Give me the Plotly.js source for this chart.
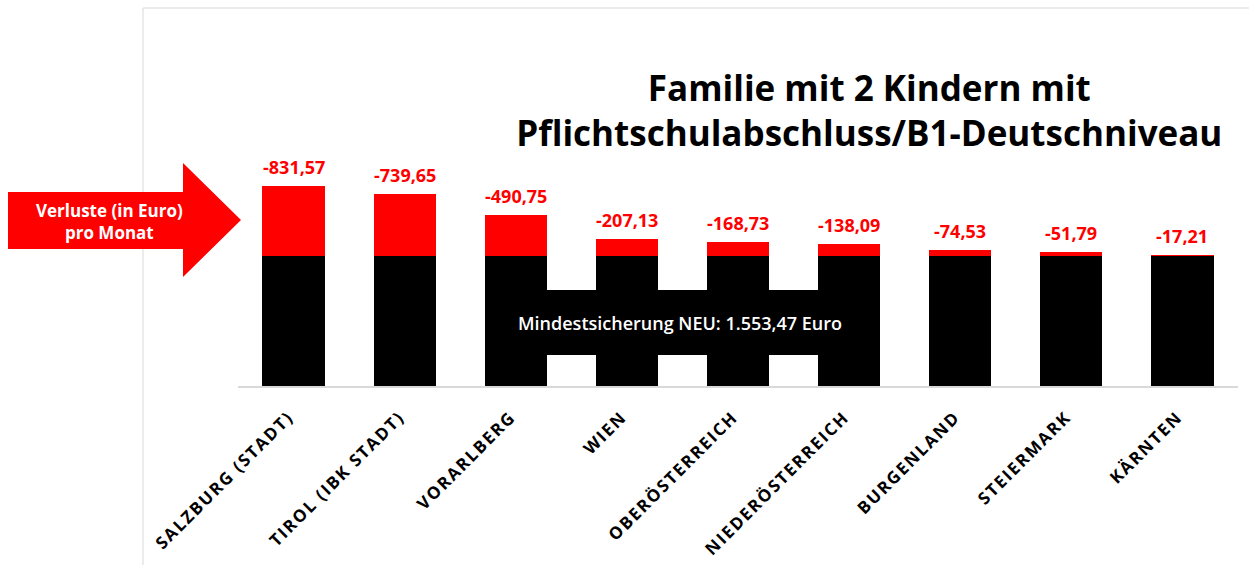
<!DOCTYPE html>
<html>
<head>
<meta charset="utf-8">
<script src="https://cdn.plot.ly/plotly-3.0.1.min.js"></script>
<style>
html,body{margin:0;padding:0;background:#fff;}
#chart{width:1249px;height:565px;}
.xtick text{letter-spacing:1.8px;}
</style>
</head>
<body>
<div id="chart"></div>
<script>
// ---- data ----
const categories = ['SALZBURG (STADT)','TIROL (IBK STADT)','VORARLBERG','WIEN','OBERÖSTERREICH','NIEDERÖSTERREICH','BURGENLAND','STEIERMARK','KÄRNTEN'];
const mindestsicherung = [1553.47,1553.47,1553.47,1553.47,1553.47,1553.47,1553.47,1553.47,1553.47];
const verluste = [831.57,739.65,490.75,207.13,168.73,138.09,74.53,51.79,17.21];
const titleLines = ['Familie mit 2 Kindern mit','Pflichtschulabschluss/B1-Deutschniveau'];
const baseLabel = 'Mindestsicherung NEU: 1.553,47 Euro';
const arrowLabel = ['Verluste (in Euro)','pro Monat'];

const fmt = v => '-' + v.toFixed(2).replace('.', ',');
const FONT = 'Open Sans, Noto Sans, sans-serif';

const traces = [
  {type:'bar', x:categories, y:mindestsicherung, marker:{color:'#000000', line:{width:0}}, hoverinfo:'skip'},
  {type:'bar', x:categories, y:verluste, marker:{color:'#ff0000', line:{width:0}}, hoverinfo:'skip'}
];

const annotations = categories.map((c,i)=>({
  x:c, y:mindestsicherung[i]+verluste[i], xref:'x', yref:'y',
  text:fmt(verluste[i]), showarrow:false, xanchor:'center', yanchor:'bottom', yshift:5,
  font:{family:FONT, size:18, color:'#ff0000', weight:700}
}));
annotations.push({
  xref:'paper', yref:'paper', x:0.442, y:0.1667, xanchor:'center', yanchor:'middle',
  text:baseLabel, showarrow:false,
  font:{family:FONT, size:18, color:'#ffffff', weight:600}
});
annotations.push({
  xref:'paper', yref:'paper', x:-0.129, y:0.4365, xanchor:'center', yanchor:'middle',
  text:arrowLabel.join('<br>'), showarrow:false,
  align:'center', font:{family:FONT, size:17, color:'#ffffff', weight:700}
});

const layout = {
  width:1249, height:565,
  margin:{l:238, r:11, t:8, b:179},
  paper_bgcolor:'#ffffff', plot_bgcolor:'#ffffff',
  barmode:'stack', bargap:0.44, showlegend:false,
  title:{text:titleLines.join('<br>'), xref:'container', yref:'container', x:0.696, xanchor:'center', y:0.822, yanchor:'middle',
         font:{family:FONT, size:35, color:'#000000', weight:700}},
  xaxis:{type:'category', showgrid:false, showline:true, linecolor:'#d9d9d9', linewidth:1.5,
         tickangle:-45, ticks:'outside', ticklen:13, tickcolor:'rgba(0,0,0,0)', ticklabelshift:-5,
         tickfont:{family:FONT, size:17, color:'#000000', weight:700}, fixedrange:true},
  yaxis:{visible:false, range:[0,4517], showgrid:false, zeroline:false, fixedrange:true},
  shapes:[
    {type:'rect', xref:'paper', yref:'paper', x0:-0.095, x1:1.2, y0:-0.7, y1:1.0, line:{color:'#d9d9d9', width:1}, fillcolor:'rgba(0,0,0,0)', layer:'below'},
    {type:'rect', xref:'paper', yref:'paper', x0:0.247, x1:0.641, y0:0.082, y1:0.254, line:{width:0}, fillcolor:'#000000', layer:'above'},
    {type:'path', xref:'paper', yref:'paper',
     path:'M -0.230 0.5132 L -0.055 0.5132 L -0.055 0.5899 L 0.003 0.4392 L -0.055 0.2884 L -0.055 0.3624 L -0.230 0.3624 Z',
     fillcolor:'#ff0000', line:{width:0}, layer:'above'}
  ],
  annotations:annotations
};

Plotly.newPlot('chart', traces, layout, {displayModeBar:false, staticPlot:true});
</script>
</body>
</html>
